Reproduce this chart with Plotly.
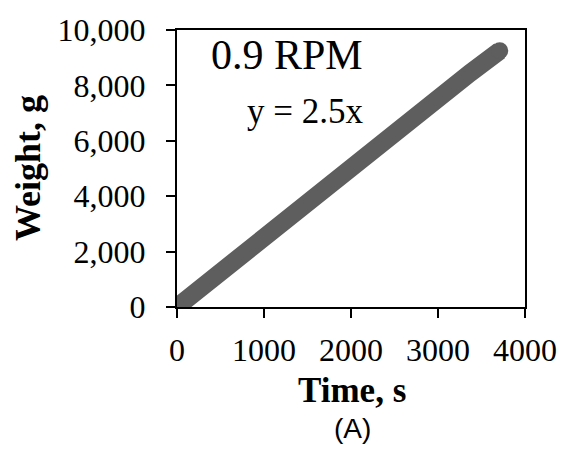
import plotly.graph_objects as go

# Data
time_s = [0, 300, 690, 1070, 1450, 1840, 2220, 2600, 2985, 3370, 3710]
weight_g = [0, 770, 1740, 2700, 3580, 4570, 5570, 6500, 7550, 8450, 9250]

x_ticks = [0, 1000, 2000, 3000, 4000]
x_tick_labels = ["0", "1000", "2000", "3000", "4000"]
y_ticks = [0, 2000, 4000, 6000, 8000, 10000]
y_tick_labels = ["0", "2,000", "4,000", "6,000", "8,000", "10,000"]

label_rpm = "0.9 RPM"
label_eq = "y = 2.5x"
x_title = "Time, s"
y_title = "Weight, g"
panel_label = "(A)"

serif = "Liberation Serif"
band = "#5e5e5e"

n = len(time_s)
cap_sizes = [17 if i in (0, n - 1) else 0 for i in range(n)]

fig = go.Figure()
fig.add_trace(go.Scatter(
    x=time_s, y=weight_g, mode="lines",
    line=dict(color=band, width=18),
    showlegend=False, hoverinfo="skip",
))
fig.add_trace(go.Scatter(
    x=time_s, y=weight_g, mode="markers",
    marker=dict(color=band, size=cap_sizes, opacity=1, line=dict(width=0)),
    showlegend=False, hoverinfo="skip",
))

axis_common = dict(
    showgrid=False, zeroline=False,
    showline=True, linecolor="black", linewidth=2, mirror=True,
    ticks="outside", ticklen=9, tickwidth=2, tickcolor="black",
    tickfont=dict(family=serif, size=32, color="black"),
)

fig.update_xaxes(range=[0, 4000], tickvals=x_ticks, ticktext=x_tick_labels,
                 ticklabelstandoff=5, **axis_common)
fig.update_yaxes(range=[0, 10000], tickvals=y_ticks, ticktext=y_tick_labels,
                 ticklabelstandoff=14, **axis_common)

annots = [
    dict(text=label_rpm, x=0.540, y=0.909, xanchor="right", yanchor="middle",
         font=dict(family=serif, size=42, color="black")),
    dict(text=label_eq, x=0.540, y=0.706, xanchor="right", yanchor="middle",
         font=dict(family=serif, size=35, color="black")),
    dict(text="<b>" + x_title + "</b>", x=0.503, y=-0.300, xanchor="center", yanchor="middle",
         font=dict(family=serif, size=35, color="black")),
    dict(text="<b>" + y_title + "</b>", x=-0.428, y=0.502, xanchor="center", yanchor="middle",
         textangle=-90, font=dict(family=serif, size=36, color="black")),
    dict(text=panel_label, x=0.503, y=-0.439, xanchor="center", yanchor="middle",
         font=dict(family="Liberation Sans", size=28, color="black")),
]
for a in annots:
    fig.add_annotation(xref="paper", yref="paper", showarrow=False, **a)

fig.update_layout(
    width=572, height=457,
    margin=dict(l=177, r=47, t=22, b=150),
    paper_bgcolor="white", plot_bgcolor="white",
)

fig.write_html("out.html")
